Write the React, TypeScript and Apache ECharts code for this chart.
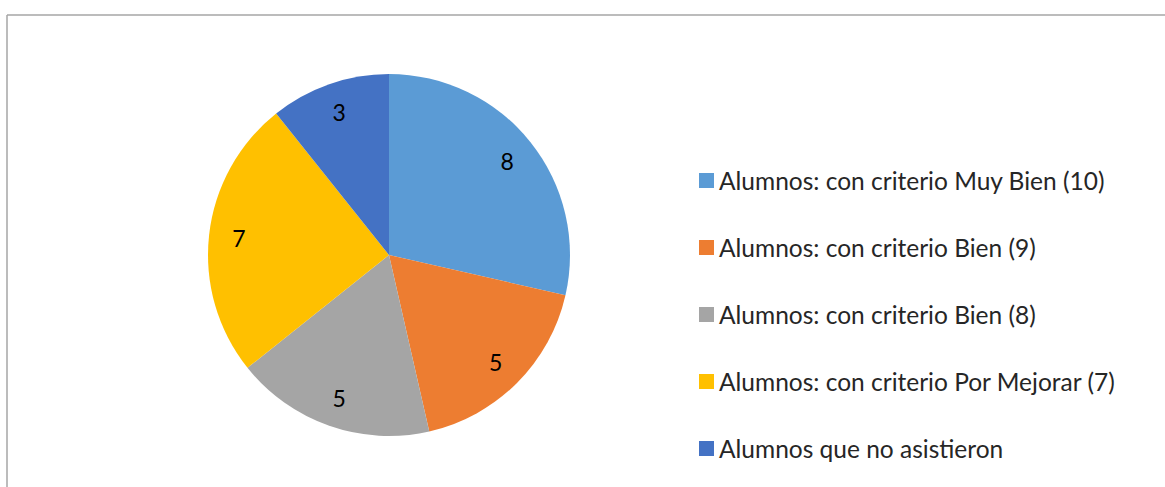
import React, { useEffect, useRef } from "react";
import * as echarts from "echarts";

const categories = [
  "Alumnos: con criterio Muy Bien (10)",
  "Alumnos: con criterio Bien (9)",
  "Alumnos: con criterio Bien (8)",
  "Alumnos: con criterio Por Mejorar (7)",
  "Alumnos que no asistieron",
];
const values = [8, 5, 5, 7, 3];
const colors = ["#5B9BD5", "#ED7D31", "#A5A5A5", "#FFC000", "#4472C4"];

const FONT = "Lato";

export default function App() {
  const ref = useRef<HTMLDivElement>(null);
  useEffect(() => {
    document.body.style.margin = "0";
    const chart = echarts.init(ref.current!, null, { renderer: "svg" });
    const data = categories.map((name, i) => ({
      name,
      value: values[i],
      itemStyle: { color: colors[i] },
    }));
    chart.setOption({
      animation: false,
      backgroundColor: "#ffffff",
      legend: {
        orient: "vertical",
        left: 694,
        top: 163,
        itemWidth: 15,
        itemHeight: 15,
        itemGap: 42,
        icon: "rect",
        data: categories,
        textStyle: { fontFamily: FONT, fontSize: 24.5, color: "#262626" },
        selectedMode: false,
      },
      graphic: [
        { type: "line", shape: { x1: 7, y1: 15, x2: 1165, y2: 15 }, style: { stroke: "#a6a6a6", lineWidth: 1.5 } },
        { type: "line", shape: { x1: 7, y1: 15, x2: 7, y2: 487 }, style: { stroke: "#a6a6a6", lineWidth: 1.5 } },
      ],
      series: [
        {
          type: "pie",
          center: [389, 255],
          radius: 181,
          startAngle: 90,
          clockwise: true,
          label: { show: false },
          labelLine: { show: false },
          silent: true,
          data,
        },
        {
          type: "pie",
          center: [389, 255],
          radius: [115, 181],
          startAngle: 90,
          clockwise: true,
          silent: true,
          itemStyle: { color: "transparent" },
          label: {
            show: true,
            position: "inside",
            formatter: "{c}",
            fontFamily: FONT,
            fontSize: 23,
            color: "#000000",
          },
          labelLine: { show: false },
          data: categories.map((name, i) => ({ name, value: values[i], itemStyle: { color: "transparent" } })),
        },
      ],
    });
    return () => chart.dispose();
  }, []);
  return <div ref={ref} style={{ width: 1165, height: 487 }} />;
}
